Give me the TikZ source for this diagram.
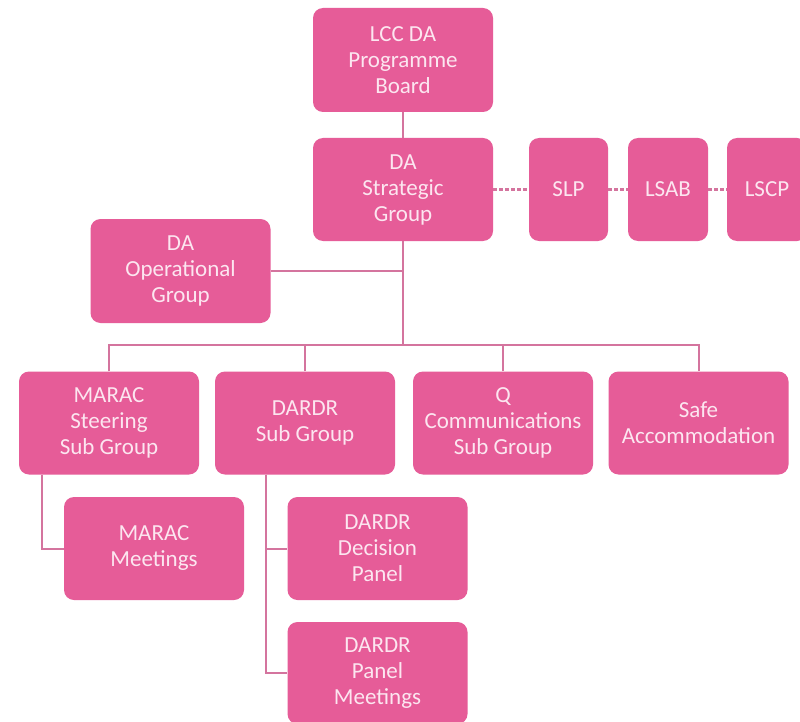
\documentclass[tikz,border=0pt]{standalone}
\usepackage{fontspec}
\setmainfont{Carlito}
\definecolor{boxfill}{HTML}{E65C98}
\definecolor{boxtext}{HTML}{FCE6F0}
\definecolor{linkcol}{HTML}{D4749E}
\begin{document}
\begin{tikzpicture}[x=1pt,y=-1pt,
  orgbox/.style={rectangle, rounded corners=10pt, fill=boxfill, draw=none,
    text=boxtext, align=center, inner sep=2pt,
    minimum width=180pt, minimum height=103pt,
    font=\fontsize{23}{26}\selectfont},
  smallbox/.style={orgbox, minimum width=80pt},
  link/.style={draw=linkcol, line width=2pt},
  dlink/.style={draw=linkcol, line width=2.2pt, dash pattern=on 4pt off 2pt}]
\useasboundingbox (0,0) rectangle (800,722);
\clip (0,0) rectangle (800,722);
\fill[white] (0,0) rectangle (800,722);
\node[orgbox, minimum height=104pt] (board) at (403,60) {LCC DA\\Programme\\Board};
\node[orgbox] (strat) at (403,189.5) {DA\\Strategic\\Group};
\node[smallbox, minimum width=79pt] (slp) at (568.5,189.5) {SLP};
\node[smallbox] (lsab) at (668,189.5) {LSAB};
\node[smallbox] (lscp) at (767,189.5) {LSCP};
\node[orgbox, minimum height=104pt] (oper) at (180.5,271) {DA\\Operational\\Group};
\node[orgbox] (marac) at (109,423) {MARAC\\Steering\\Sub Group};
\node[orgbox] (dardr) at (305,423) {DARDR\\Sub Group};
\node[orgbox] (qcomm) at (503,423) {Q\\Communications\\Sub Group};
\node[orgbox] (safe) at (698.5,423) {Safe\\Accommodation};
\node[orgbox] (maracm) at (154,548.5) {MARAC\\Meetings};
\node[orgbox] (dec) at (377.5,548.5) {DARDR\\Decision\\Panel};
\node[orgbox, minimum height=102pt] (pm) at (377.5,673) {DARDR\\Panel\\Meetings};
\coordinate (bus) at (403,345);
\draw[link] (board.south) -- (strat.north);
\draw[link] (strat.south) -- (bus);
\draw[link] (oper.east) -- (strat.south |- oper.east);
\draw[link] (marac.north) |- (bus) -| (safe.north);
\draw[link] (dardr.north) -- (dardr.north |- bus);
\draw[link] (qcomm.north) -- (qcomm.north |- bus);
\draw[link] ([xshift=-67pt]marac.south) |- (maracm.west);
\draw[link] ([xshift=-39pt]dardr.south) |- (dec.west);
\draw[link] ([xshift=-39pt]dardr.south) |- (pm.west);
\draw[dlink] (strat.east) -- (slp.west);
\draw[dlink] (slp.east) -- (lsab.west);
\draw[dlink] (lsab.east) -- (lscp.west);
\end{tikzpicture}
\end{document}
